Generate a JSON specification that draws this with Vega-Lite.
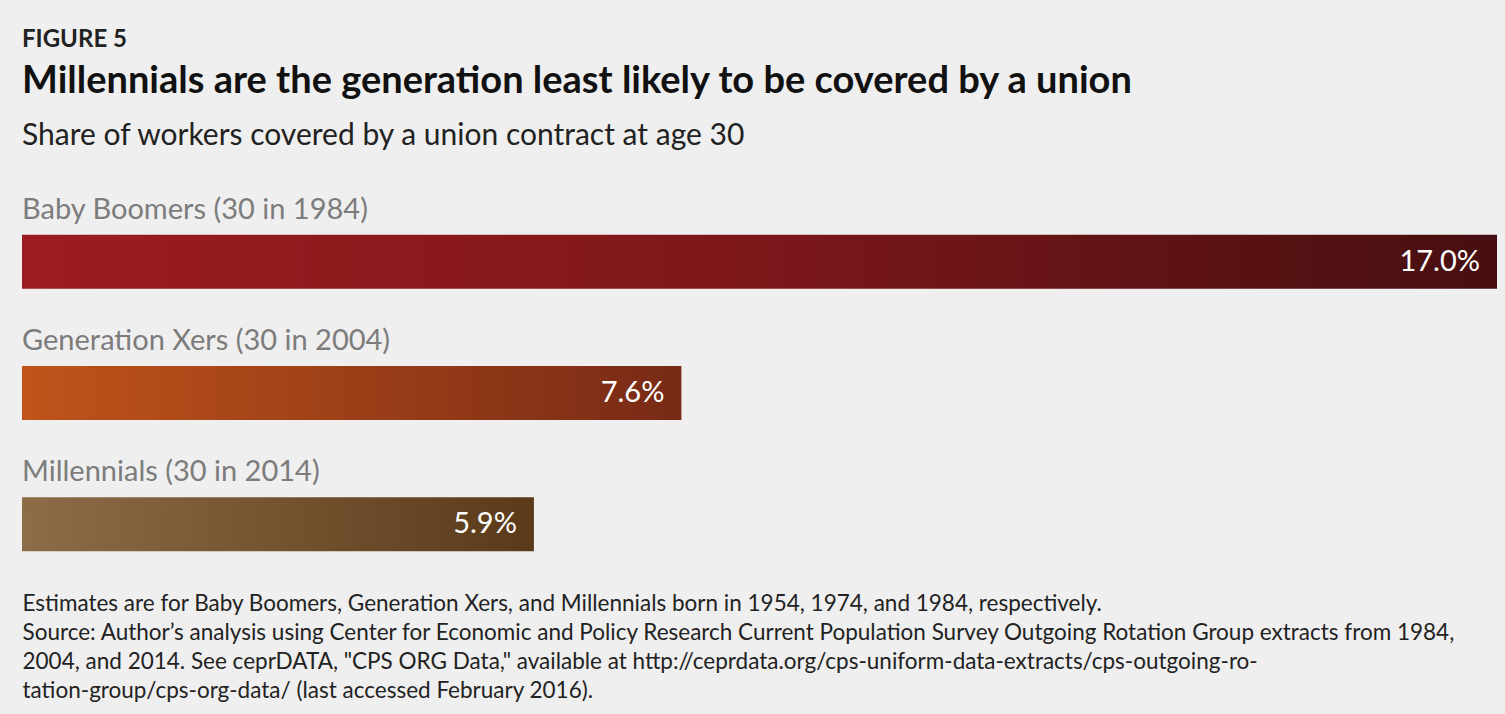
{
  "$schema": "https://vega.github.io/schema/vega-lite/v6.json",
  "background": "#efefef",
  "padding": {"left": 22, "top": 28, "right": 8, "bottom": 14},
  "title": {"text": "FIGURE 5", "anchor": "start", "fontSize": 24, "font": "Lato", "fontWeight": "bold", "color": "#222222", "offset": 11},
  "config": {"view": {"stroke": null}, "concat": {"spacing": 0}},
  "datasets": {
    "gens": [
      {"gen": "Baby Boomers", "label": "Baby Boomers (30 in 1984)", "share": 17.0, "valueLabel": "17.0%"},
      {"gen": "Generation Xers", "label": "Generation Xers (30 in 2004)", "share": 7.6, "valueLabel": "7.6%"},
      {"gen": "Millennials", "label": "Millennials (30 in 2014)", "share": 5.9, "valueLabel": "5.9%"}
    ]
  },
  "vconcat": [
    {
      "width": 1475,
      "height": 394,
      "title": {
        "text": "Millennials are the generation least likely to be covered by a union",
        "subtitle": "Share of workers covered by a union contract at age 30",
        "anchor": "start",
        "font": "Lato",
        "fontSize": 38,
        "fontWeight": "bold",
        "color": "#111111",
        "subtitleFont": "Lato",
        "subtitleFontSize": 30,
        "subtitleColor": "#222222",
        "subtitlePadding": 20,
        "offset": 7
      },
      "data": {"name": "gens"},
      "encoding": {
        "y": {
          "field": "gen",
          "type": "ordinal",
          "sort": ["Baby Boomers", "Generation Xers", "Millennials"],
          "scale": {"paddingInner": 0, "paddingOuter": 0},
          "axis": null
        },
        "x": {
          "field": "share",
          "type": "quantitative",
          "scale": {"domain": [0, 17], "nice": false, "zero": true},
          "axis": {
            "title": [
              "Estimates are for Baby Boomers, Generation Xers, and Millennials born in 1954, 1974, and 1984, respectively.",
              "Source: Author’s analysis using Center for Economic and Policy Research Current Population Survey Outgoing Rotation Group extracts from 1984,",
              "2004, and 2014. See ceprDATA, \"CPS ORG Data,\" available at http://ceprdata.org/cps-uniform-data-extracts/cps-outgoing-ro-",
              "tation-group/cps-org-data/ (last accessed February 2016)."
            ],
            "labels": false,
            "ticks": false,
            "domain": false,
            "grid": false,
            "titleAnchor": "start",
            "titleAlign": "left",
            "titleBaseline": "top",
            "titleFont": "Lato",
            "titleFontSize": 22.5,
            "titleFontWeight": "normal",
            "titleColor": "#222222",
            "titleLineHeight": 29,
            "titlePadding": 40
          }
        }
      },
      "layer": [
        {
          "transform": [{"filter": "datum.gen === 'Baby Boomers'"}],
          "mark": {
            "type": "bar", "size": 54, "yOffset": 38,
            "color": {"gradient": "linear", "x1": 0, "y1": 0, "x2": 1, "y2": 0,
              "stops": [{"offset": 0, "color": "#9c1c21"}, {"offset": 0.5, "color": "#7c171a"}, {"offset": 1, "color": "#470f10"}]}
          }
        },
        {
          "transform": [{"filter": "datum.gen === 'Generation Xers'"}],
          "mark": {
            "type": "bar", "size": 54, "yOffset": 38,
            "color": {"gradient": "linear", "x1": 0, "y1": 0, "x2": 1, "y2": 0,
              "stops": [{"offset": 0, "color": "#c0541a"}, {"offset": 1, "color": "#782a16"}]}
          }
        },
        {
          "transform": [{"filter": "datum.gen === 'Millennials'"}],
          "mark": {
            "type": "bar", "size": 54, "yOffset": 38,
            "color": {"gradient": "linear", "x1": 0, "y1": 0, "x2": 1, "y2": 0,
              "stops": [{"offset": 0, "color": "#8c6d48"}, {"offset": 1, "color": "#5a3a19"}]}
          }
        },
        {
          "mark": {"type": "text", "align": "left", "baseline": "alphabetic", "yOffset": -5, "font": "Lato", "fontSize": 29, "color": "#7c7c7c"},
          "encoding": {
            "x": {"datum": 0},
            "text": {"field": "label"}
          }
        },
        {
          "mark": {"type": "text", "align": "right", "baseline": "middle", "yOffset": 38, "dx": -17, "font": "Lato", "fontSize": 29, "color": "#ffffff"},
          "encoding": {
            "text": {"field": "valueLabel"}
          }
        }
      ]
    }
  ]
}
